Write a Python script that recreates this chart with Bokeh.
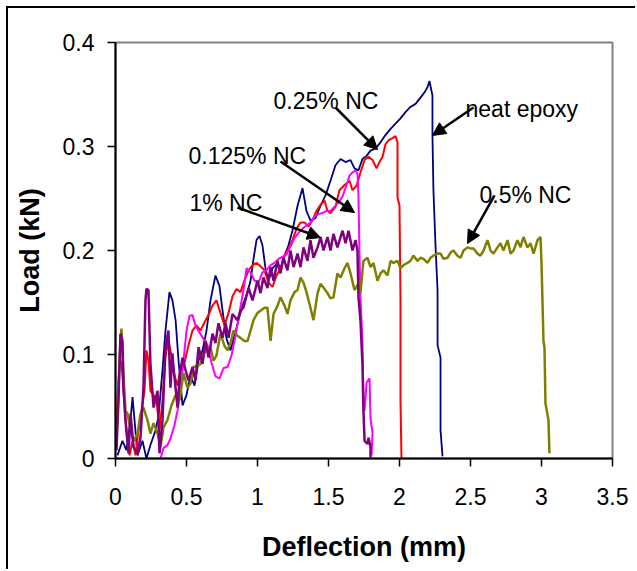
from bokeh.plotting import figure
from bokeh.models import Range1d, FixedTicker, Arrow, NormalHead, Label
from bokeh.embed import file_html
from bokeh.resources import INLINE

# ---------------- data (deflection in mm, load in kN) ----------------
neat_x = [0.014, 0.049, 0.077, 0.106, 0.120, 0.134, 0.155, 0.190, 0.218, 0.246, 0.282, 0.303,
          0.331, 0.352, 0.380, 0.401, 0.423, 0.444, 0.472, 0.500, 0.528, 0.556, 0.585, 0.613,
          0.641, 0.669, 0.704, 0.732, 0.754, 0.782, 0.810, 0.838, 0.866, 0.894, 0.923, 0.951,
          0.972, 0.993, 1.014, 1.035, 1.056, 1.077, 1.106, 1.134, 1.162, 1.190, 1.218, 1.246,
          1.282, 1.317, 1.345, 1.373, 1.408, 1.444, 1.479, 1.514, 1.549, 1.585, 1.620, 1.655,
          1.683, 1.711, 1.739, 1.768, 1.796, 1.831, 1.866, 1.901, 1.937, 1.972, 2.007, 2.042,
          2.077, 2.113, 2.148, 2.176, 2.197, 2.211, 2.232, 2.232, 2.239, 2.254, 2.268, 2.268,
          2.289, 2.289, 2.303]
neat_y = [0.003, 0.017, 0.008, 0.037, 0.059, 0.037, 0.003, 0.017, 0.000, 0.013, 0.027, 0.041,
          0.085, 0.123, 0.160, 0.152, 0.133, 0.094, 0.051, 0.061, 0.080, 0.070, 0.094, 0.104,
          0.123, 0.152, 0.176, 0.166, 0.142, 0.115, 0.104, 0.118, 0.133, 0.147, 0.157, 0.171,
          0.192, 0.210, 0.214, 0.205, 0.183, 0.171, 0.183, 0.187, 0.183, 0.195, 0.205, 0.219,
          0.243, 0.260, 0.238, 0.229, 0.231, 0.243, 0.253, 0.267, 0.282, 0.288, 0.285, 0.287,
          0.279, 0.277, 0.288, 0.291, 0.296, 0.298, 0.304, 0.311, 0.317, 0.322, 0.327, 0.333,
          0.338, 0.341, 0.347, 0.352, 0.357, 0.363, 0.349, 0.311, 0.258, 0.203, 0.162, 0.109,
          0.097, 0.027, 0.002]

nc025_x = [0.000, 0.014, 0.028, 0.042, 0.056, 0.077, 0.099, 0.120, 0.141, 0.162, 0.183, 0.204,
           0.218, 0.232, 0.246, 0.268, 0.289, 0.310, 0.331, 0.352, 0.373, 0.394, 0.415, 0.437,
           0.458, 0.486, 0.514, 0.542, 0.570, 0.599, 0.627, 0.655, 0.683, 0.711, 0.739, 0.768,
           0.796, 0.824, 0.852, 0.880, 0.908, 0.937, 0.965, 0.993, 1.021, 1.049, 1.077, 1.106,
           1.134, 1.162, 1.190, 1.218, 1.246, 1.275, 1.303, 1.331, 1.359, 1.387, 1.415, 1.444,
           1.472, 1.493, 1.514, 1.549, 1.577, 1.613, 1.648, 1.669, 1.697, 1.725, 1.754, 1.782,
           1.810, 1.838, 1.859, 1.880, 1.901, 1.923, 1.951, 1.972, 1.986, 1.986, 2.000, 2.007,
           2.007, 2.014]
nc025_y = [0.017, 0.056, 0.089, 0.094, 0.065, 0.027, 0.003, 0.017, 0.003, 0.027, 0.046, 0.065,
           0.104, 0.094, 0.065, 0.061, 0.056, 0.027, 0.056, 0.099, 0.113, 0.099, 0.080, 0.070,
           0.087, 0.092, 0.109, 0.123, 0.128, 0.123, 0.131, 0.138, 0.147, 0.152, 0.140, 0.128,
           0.140, 0.156, 0.163, 0.160, 0.171, 0.181, 0.186, 0.188, 0.185, 0.181, 0.169, 0.165,
           0.176, 0.183, 0.195, 0.202, 0.210, 0.221, 0.227, 0.227, 0.223, 0.229, 0.238, 0.244,
           0.248, 0.238, 0.236, 0.242, 0.258, 0.263, 0.267, 0.258, 0.262, 0.275, 0.287, 0.290,
           0.287, 0.279, 0.285, 0.290, 0.302, 0.306, 0.308, 0.310, 0.304, 0.251, 0.243, 0.152,
           0.056, 0.000]

nc0125_x = [0.317, 0.338, 0.366, 0.387, 0.415, 0.437, 0.458, 0.479, 0.500, 0.521, 0.542, 0.563,
            0.592, 0.620, 0.648, 0.676, 0.704, 0.732, 0.761, 0.789, 0.817, 0.845, 0.873, 0.901,
            0.923, 0.951, 0.979, 1.007, 1.035, 1.063, 1.092, 1.120, 1.148, 1.176, 1.204, 1.232,
            1.261, 1.289, 1.317, 1.345, 1.373, 1.401, 1.430, 1.458, 1.486, 1.514, 1.542, 1.570,
            1.599, 1.627, 1.648, 1.669, 1.690, 1.704, 1.711, 1.718, 1.725, 1.739, 1.746, 1.754,
            1.768, 1.789, 1.796, 1.810, 1.803]
nc0125_y = [0.000, 0.010, 0.013, 0.019, 0.032, 0.046, 0.065, 0.094, 0.123, 0.137, 0.138, 0.128,
            0.121, 0.115, 0.109, 0.092, 0.079, 0.077, 0.087, 0.088, 0.099, 0.118, 0.140, 0.162,
            0.183, 0.179, 0.171, 0.169, 0.179, 0.181, 0.186, 0.188, 0.192, 0.194, 0.196, 0.204,
            0.212, 0.217, 0.221, 0.224, 0.227, 0.233, 0.235, 0.236, 0.238, 0.238, 0.242, 0.246,
            0.252, 0.263, 0.272, 0.275, 0.277, 0.274, 0.253, 0.200, 0.155, 0.113, 0.059, 0.046,
            0.073, 0.077, 0.038, 0.025, 0.003]

nc05_x = [0.000, 0.014, 0.028, 0.042, 0.056, 0.070, 0.085, 0.106, 0.127, 0.155, 0.176, 0.197,
          0.225, 0.246, 0.268, 0.296, 0.317, 0.338, 0.366, 0.394, 0.423, 0.451, 0.479, 0.507,
          0.528, 0.549, 0.577, 0.599, 0.620, 0.648, 0.669, 0.690, 0.711, 0.739, 0.768, 0.789,
          0.810, 0.831, 0.859, 0.880, 0.908, 0.930, 0.951, 0.972, 1.000, 1.021, 1.049, 1.070,
          1.092, 1.113, 1.141, 1.162, 1.190, 1.211, 1.232, 1.261, 1.282, 1.303, 1.324, 1.345,
          1.373, 1.394, 1.423, 1.444, 1.472, 1.493, 1.514, 1.535, 1.563, 1.585, 1.613, 1.634,
          1.655, 1.683, 1.711, 1.725, 1.746, 1.775, 1.796, 1.817, 1.845, 1.866, 1.887, 1.915,
          1.937, 1.958, 1.986, 2.007, 2.028, 2.056, 2.077, 2.099, 2.127, 2.148, 2.169, 2.197,
          2.218, 2.239, 2.268, 2.289, 2.310, 2.338, 2.359, 2.380, 2.408, 2.430, 2.451, 2.479,
          2.500, 2.521, 2.549, 2.570, 2.592, 2.620, 2.641, 2.662, 2.690, 2.711, 2.732, 2.761,
          2.782, 2.803, 2.831, 2.852, 2.873, 2.901, 2.923, 2.944, 2.972, 2.993, 3.000, 3.014,
          3.021, 3.028, 3.049, 3.056]
nc05_y = [0.013, 0.037, 0.094, 0.125, 0.082, 0.046, 0.043, 0.027, 0.017, 0.024, 0.043, 0.049,
          0.037, 0.024, 0.034, 0.024, 0.011, 0.030, 0.037, 0.051, 0.061, 0.056, 0.082, 0.068,
          0.072, 0.088, 0.089, 0.091, 0.101, 0.104, 0.107, 0.094, 0.099, 0.120, 0.108, 0.104,
          0.111, 0.123, 0.118, 0.116, 0.113, 0.113, 0.123, 0.133, 0.140, 0.142, 0.145, 0.145,
          0.113, 0.139, 0.147, 0.155, 0.147, 0.139, 0.152, 0.160, 0.162, 0.174, 0.169, 0.160,
          0.145, 0.133, 0.159, 0.168, 0.163, 0.159, 0.154, 0.155, 0.178, 0.174, 0.183, 0.188,
          0.178, 0.162, 0.168, 0.159, 0.190, 0.193, 0.184, 0.188, 0.171, 0.178, 0.181, 0.176,
          0.190, 0.188, 0.190, 0.183, 0.186, 0.188, 0.190, 0.195, 0.190, 0.193, 0.192, 0.188,
          0.193, 0.195, 0.197, 0.197, 0.192, 0.193, 0.198, 0.200, 0.195, 0.193, 0.200, 0.203,
          0.202, 0.202, 0.197, 0.195, 0.200, 0.210, 0.200, 0.197, 0.203, 0.207, 0.200, 0.210,
          0.197, 0.200, 0.210, 0.203, 0.213, 0.203, 0.207, 0.197, 0.210, 0.213, 0.188, 0.113,
          0.107, 0.053, 0.037, 0.005]

nc1_x = [0.007, 0.021, 0.035, 0.049, 0.056, 0.070, 0.092, 0.106, 0.127, 0.155, 0.176, 0.197,
         0.211, 0.218, 0.232, 0.246, 0.268, 0.296, 0.310, 0.331, 0.352, 0.373, 0.387, 0.401,
         0.408, 0.437, 0.451, 0.472, 0.493, 0.514, 0.542, 0.563, 0.585, 0.613, 0.634, 0.655,
         0.683, 0.704, 0.725, 0.754, 0.775, 0.796, 0.824, 0.859, 0.880, 0.901, 0.937, 0.965,
         1.000, 1.021, 1.042, 1.070, 1.092, 1.113, 1.141, 1.162, 1.183, 1.211, 1.232, 1.254,
         1.282, 1.303, 1.324, 1.352, 1.373, 1.394, 1.423, 1.444, 1.465, 1.493, 1.514, 1.535,
         1.563, 1.599, 1.620, 1.641, 1.669, 1.690, 1.704, 1.711, 1.725, 1.739, 1.746, 1.754,
         1.775, 1.782, 1.796, 1.796]
nc1_y = [0.008, 0.056, 0.120, 0.113, 0.068, 0.037, 0.005, 0.043, 0.011, 0.005, 0.020, 0.068,
         0.152, 0.163, 0.162, 0.091, 0.049, 0.065, 0.005, 0.037, 0.107, 0.123, 0.068, 0.101,
         0.088, 0.049, 0.078, 0.097, 0.085, 0.075, 0.088, 0.075, 0.107, 0.091, 0.113, 0.097,
         0.120, 0.111, 0.130, 0.116, 0.130, 0.116, 0.139, 0.133, 0.142, 0.145, 0.164, 0.152,
         0.171, 0.159, 0.174, 0.164, 0.184, 0.171, 0.190, 0.178, 0.193, 0.181, 0.200, 0.184,
         0.197, 0.184, 0.203, 0.190, 0.210, 0.193, 0.203, 0.213, 0.200, 0.213, 0.200, 0.216,
         0.203, 0.219, 0.207, 0.219, 0.200, 0.210, 0.200, 0.155, 0.133, 0.091, 0.046, 0.017,
         0.014, 0.020, 0.011, 0.001]

x_ticks = [0, 0.5, 1, 1.5, 2, 2.5, 3, 3.5]
x_tick_labels = ["0", "0.5", "1", "1.5", "2", "2.5", "3", "3.5"]
y_ticks = [0, 0.1, 0.2, 0.3, 0.4]
y_tick_labels = ["0", "0.1", "0.2", "0.3", "0.4"]

series = [
    ("neat epoxy", neat_x, neat_y, "#000080", 1.8),
    ("0.25% NC", nc025_x, nc025_y, "#FF0000", 2.0),
    ("0.125% NC", nc0125_x, nc0125_y, "#FF00FF", 2.0),
    ("0.5% NC", nc05_x, nc05_y, "#808000", 2.5),
    ("1% NC", nc1_x, nc1_y, "#800080", 2.5),
]

# label text, text anchor (x, y), arrow start, arrow end
labels = [
    ("0.25% NC", 1.113, 0.344, 1.549, 0.3375, 1.845, 0.297),
    ("neat epoxy", 2.465, 0.3365, 2.521, 0.3375, 2.232, 0.3106),
    ("0.125% NC", 0.514, 0.291, 1.162, 0.2856, 1.683, 0.2365),
    ("1% NC", 0.521, 0.246, 0.859, 0.2413, 1.444, 0.2125),
    ("0.5% NC", 2.563, 0.253, 2.669, 0.2529, 2.479, 0.2067),
]

FONT = "Liberation Sans"

p = figure(frame_width=497, frame_height=416,
           min_border_left=107, min_border_right=25, min_border_top=34, min_border_bottom=113,
           x_range=Range1d(0, 3.5), y_range=Range1d(0, 0.4),
           output_backend="svg", toolbar_location=None,
           background_fill_color="white", border_fill_color="white")
p.styles = {"margin-left": "8px", "margin-top": "8px",
            "box-shadow": "-2px -2px 0 0 #000000"}

p.xgrid.visible = False
p.ygrid.visible = False
p.outline_line_color = "#808080"
p.outline_line_width = 2

for name, xs, ys, col, lw in series:
    p.line(xs, ys, line_color=col, line_width=lw)

for ax, ticks, tlabels in ((p.xaxis[0], x_ticks, x_tick_labels), (p.yaxis[0], y_ticks, y_tick_labels)):
    ax.ticker = FixedTicker(ticks=ticks)
    ax.major_label_overrides = {t: l for t, l in zip(ticks, tlabels)}
    ax.axis_line_color = "black"
    ax.axis_line_width = 2
    ax.major_tick_line_color = "black"
    ax.major_tick_line_width = 1.5
    ax.major_tick_out = 8
    ax.major_tick_in = 0
    ax.minor_tick_out = 0
    ax.minor_tick_in = 0
    ax.major_label_text_font = FONT
    ax.major_label_text_font_size = "23px"
    ax.major_label_text_color = "black"
    ax.axis_label_text_font = FONT
    ax.axis_label_text_font_size = "27px"
    ax.axis_label_text_font_style = "bold"
    ax.axis_label_text_color = "black"

p.xaxis.axis_label = "Deflection (mm)"
p.yaxis.axis_label = "Load (kN)"
p.xaxis.major_label_standoff = 21
p.xaxis.axis_label_standoff = 24
p.yaxis.major_label_standoff = 13
p.yaxis.axis_label_standoff = 15

for txt, tx, ty, xs, ys, xe, ye in labels:
    p.add_layout(Label(x=tx, y=ty, text=txt, text_font=FONT, text_font_size="23px",
                       text_color="black", text_baseline="alphabetic", text_align="left"))
    p.add_layout(Arrow(x_start=xs, y_start=ys, x_end=xe, y_end=ye,
                       line_color="black", line_width=2.5,
                       end=NormalHead(size=13, fill_color="black", line_color="black")))

open("out.html", "w").write(file_html(p, INLINE))
